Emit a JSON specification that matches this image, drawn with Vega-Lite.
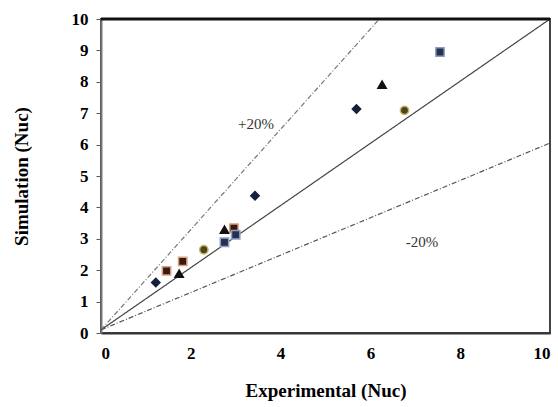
{
  "$schema": "https://vega.github.io/schema/vega-lite/v6.json",
  "autosize": {"type": "none"},
  "width": 449,
  "height": 314,
  "padding": {"left": 101, "top": 19, "right": 8, "bottom": 74},
  "background": "white",
  "config": {
    "view": {"stroke": "#444444", "strokeWidth": 2},
    "axisX": {"labelFont": "Liberation Serif", "labelFontWeight": "bold", "labelFontSize": 17, "labelColor": "black"},
    "axisY": {"labelFont": "Liberation Serif", "labelFontWeight": "bold", "labelFontSize": 17, "labelColor": "black"}
  },
  "datasets": {
    "lines": [
      {"line": "1:1", "x": 0, "y": 0.1},
      {"line": "1:1", "x": 10, "y": 10},
      {"line": "+20%", "x": 0, "y": 0.1},
      {"line": "+20%", "x": 6.2, "y": 10},
      {"line": "-20%", "x": 0, "y": 0.1},
      {"line": "-20%", "x": 10, "y": 6.05}
    ],
    "top": [{"x": 0, "y": 10}, {"x": 10, "y": 10}],
    "points": [
      {"series": "A", "x": 1.22, "y": 1.61},
      {"series": "A", "x": 3.43, "y": 4.37},
      {"series": "A", "x": 5.69, "y": 7.13},
      {"series": "B", "x": 1.46, "y": 1.98},
      {"series": "B", "x": 1.82, "y": 2.28},
      {"series": "B", "x": 2.96, "y": 3.34},
      {"series": "C", "x": 1.74, "y": 1.89},
      {"series": "C", "x": 2.75, "y": 3.29},
      {"series": "C", "x": 6.26, "y": 7.91},
      {"series": "D", "x": 2.75, "y": 2.89},
      {"series": "D", "x": 3.0, "y": 3.13},
      {"series": "D", "x": 7.55, "y": 8.95},
      {"series": "E", "x": 2.29, "y": 2.65},
      {"series": "E", "x": 6.76, "y": 7.09}
    ],
    "labels": [
      {"x": 3.45, "y": 6.65, "text": "+20%"},
      {"x": 7.15, "y": 2.9, "text": "-20%"}
    ]
  },
  "encoding": {
    "x": {"field": "x", "type": "quantitative", "scale": {"domain": [0, 10]},
      "axis": {"values": [0, 2, 4, 6, 8, 10], "title": "Experimental (Nuc)", "grid": false, "tickSize": 0, "labelOverlap": false,
        "labelFont": "Liberation Serif", "labelFontWeight": "bold", "labelFontSize": 17, "labelColor": "black", "labelPadding": 12,
        "titleFont": "Liberation Serif", "titleFontWeight": "bold", "titleFontSize": 19, "titleColor": "black", "titlePadding": 20,
        "domainColor": "#333333", "domainWidth": 2}},
    "y": {"field": "y", "type": "quantitative", "scale": {"domain": [0, 10]},
      "axis": {"values": [0, 1, 2, 3, 4, 5, 6, 7, 8, 9, 10], "title": "Simulation (Nuc)", "grid": false, "tickSize": 5, "tickColor": "#555555", "labelOverlap": false,
        "labelFont": "Liberation Serif", "labelFontWeight": "bold", "labelFontSize": 17, "labelColor": "black", "labelPadding": 8,
        "titleFont": "Liberation Serif", "titleFontWeight": "bold", "titleFontSize": 19, "titleColor": "black", "titlePadding": 40,
        "domainColor": "#777777", "domainWidth": 2}}
  },
  "layer": [
    {
      "data": {"name": "lines"},
      "mark": {"type": "line", "strokeWidth": 1.2},
      "encoding": {
        "detail": {"field": "line"},
        "color": {"field": "line", "type": "nominal", "scale": {"domain": ["1:1", "+20%", "-20%"], "range": ["#444444", "#777777", "#555555"]}, "legend": null},
        "strokeDash": {"field": "line", "type": "nominal", "scale": {"domain": ["1:1", "+20%", "-20%"], "range": [[1, 0], [5, 2, 1, 2], [5, 2, 1, 2]]}, "legend": null}
      }
    },
    {
      "data": {"name": "top"},
      "mark": {"type": "line", "color": "#111111", "strokeWidth": 3},
      "encoding": {}
    },
    {
      "data": {"name": "points"},
      "mark": {"type": "point", "filled": true, "opacity": 1, "strokeWidth": 1.5},
      "encoding": {
        "shape": {"field": "series", "type": "nominal", "scale": {"domain": ["A", "B", "C", "D", "E"], "range": ["diamond", "square", "triangle-up", "square", "circle"]}, "legend": null},
        "fill": {"field": "series", "type": "nominal", "scale": {"domain": ["A", "B", "C", "D", "E"], "range": ["#15203a", "#3a1a10", "#111111", "#26314f", "#4a4620"]}, "legend": null},
        "stroke": {"field": "series", "type": "nominal", "scale": {"domain": ["A", "B", "C", "D", "E"], "range": ["#15203a", "#d9a080", "#111111", "#8fa0c0", "#c8b860"]}, "legend": null},
        "size": {"value": 70}
      }
    },
    {
      "data": {"name": "labels"},
      "mark": {"type": "text", "font": "Liberation Serif", "fontSize": 15, "color": "#333333"},
      "encoding": {
        "text": {"field": "text"}
      }
    }
  ]
}
